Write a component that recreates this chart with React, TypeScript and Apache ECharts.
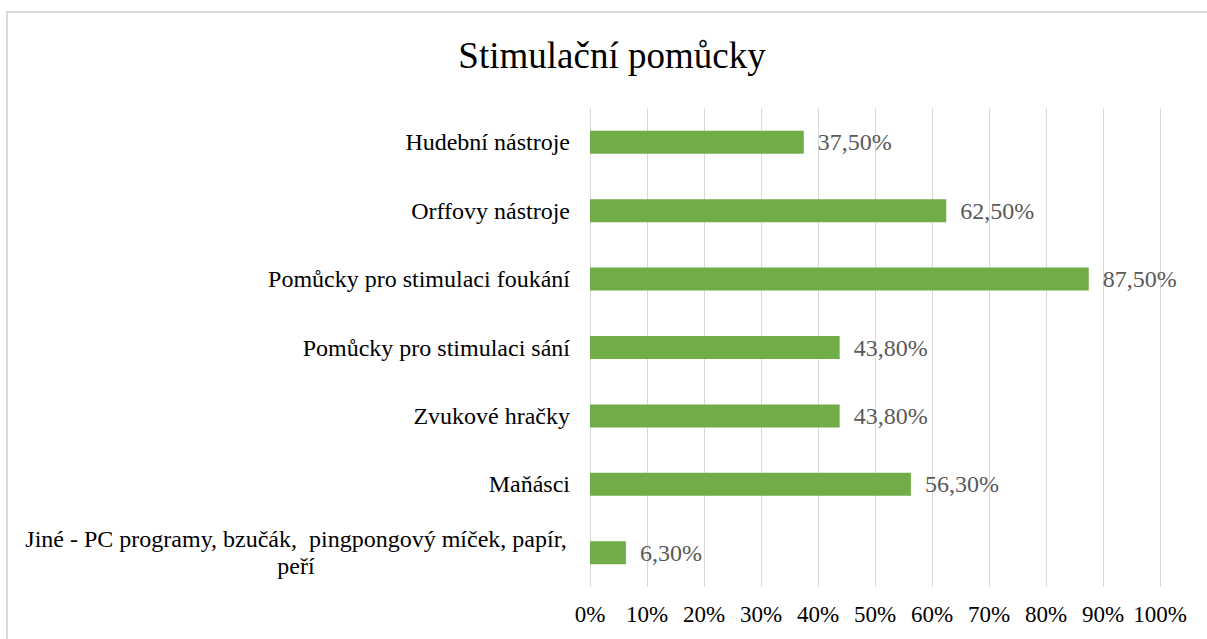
import React, { useEffect, useRef } from "react";
import * as echarts from "echarts";

const TITLE = "Stimulační pomůcky";
const categories = [
  "Hudební nástroje",
  "Orffovy nástroje",
  "Pomůcky pro stimulaci foukání",
  "Pomůcky pro stimulaci sání",
  "Zvukové hračky",
  "Maňásci",
  "Jiné - PC programy, bzučák,  pingpongový míček, papír, peří",
];
const values = [37.5, 62.5, 87.5, 43.8, 43.8, 56.3, 6.3];
const xTicks = { min: 0, max: 100, interval: 10 };

const FONT = "Liberation Serif";

export default function App() {
  const ref = useRef<HTMLDivElement>(null);
  useEffect(() => {
    if (!ref.current) return;
    const chart = echarts.init(ref.current, undefined, { renderer: "svg" });
    chart.setOption({
      animation: false,
      textStyle: { fontFamily: FONT },
      graphic: [
        {
          type: "rect",
          shape: { x: 7, y: 12, width: 1300, height: 700 },
          style: { fill: "none", stroke: "#d9d9d9", lineWidth: 2 },
          silent: true,
        },
        {
          type: "text",
          x: 612,
          y: 55,
          style: {
            text: TITLE,
            fontFamily: FONT,
            fontSize: 37,
            fill: "#000",
            align: "center",
            verticalAlign: "middle",
          },
        },
      ],
      grid: { left: 590, right: 47, top: 108, bottom: 52, containLabel: false },
      xAxis: {
        type: "value",
        min: xTicks.min,
        max: xTicks.max,
        interval: xTicks.interval,
        axisLine: { show: false },
        axisTick: { show: false },
        splitLine: { show: true, lineStyle: { color: "#d9d9d9", width: 1 } },
        axisLabel: {
          formatter: (v: number) => `${v}%`,
          fontFamily: FONT,
          fontSize: 23,
          color: "#000",
          margin: 16,
        },
      },
      yAxis: {
        type: "category",
        data: categories,
        inverse: true,
        axisLine: { show: false },
        axisTick: { show: false },
        axisLabel: {
          margin: 20,
          fontFamily: FONT,
          fontSize: 24,
          color: "#000",
          lineHeight: 27,
          formatter: (v: string) => {
            const lines = v.replace("papír, ", "papír,\n").split("\n");
            if (lines.length === 1) return `{c|${v}}`;
            return lines.map((l) => `{m|${l}}`).join("\n");
          },
          rich: {
            c: { fontFamily: FONT, fontSize: 24, color: "#000", lineHeight: 27 },
            m: {
              fontFamily: FONT,
              fontSize: 24,
              color: "#000",
              lineHeight: 27,
              width: 548,
              align: "center",
            },
          },
        },
      },
      series: [
        {
          type: "bar",
          data: values,
          barWidth: 23,
          itemStyle: { color: "#70AD47" },
          label: {
            show: true,
            position: "right",
            distance: 14,
            fontFamily: FONT,
            fontSize: 24,
            color: "#595959",
            formatter: (p: any) => `${p.value.toFixed(2).replace(".", ",")}%`,
          },
        },
      ],
    });
    return () => chart.dispose();
  }, []);
  return (
    <div
      ref={ref}
      style={{ position: "absolute", left: 0, top: 0, width: 1207, height: 639, background: "#fff" }}
    />
  );
}
